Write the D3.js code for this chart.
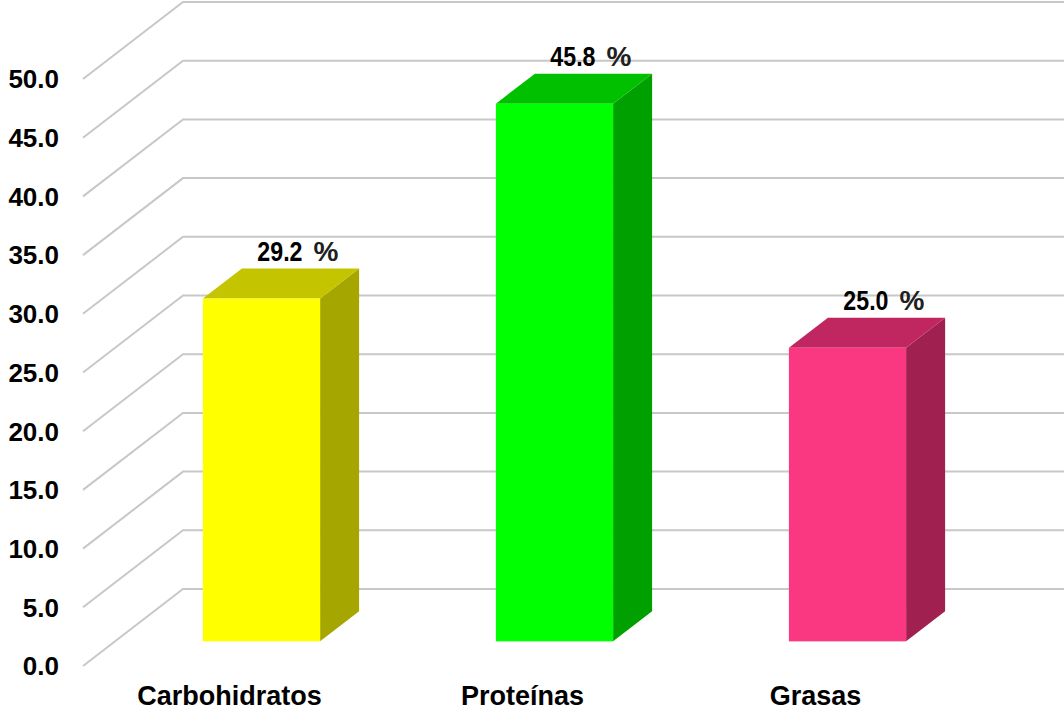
<!DOCTYPE html>
<html>
<head>
<meta charset="utf-8">
<script src="https://cdn.jsdelivr.net/npm/d3@7"></script>
<style>
  body { margin: 0; background: #fff; }
  text { font-family: "Liberation Sans", Arial, sans-serif; }
</style>
</head>
<body>
<div id="chart"></div>
<script>
// Data
const categories = ["Carbohidratos", "Proteínas", "Grasas"];
const values = [29.2, 45.8, 25.0];
const yTicks = [0, 5, 10, 15, 20, 25, 30, 35, 40, 45, 50];
const frontColors = ["#ffff00", "#00ff00", "#fa3882"];
const topColors = ["#c4c400", "#00c000", "#c0265f"];
const sideColors = ["#a6a600", "#00a000", "#a02050"];

const width = 1064, height = 712;

// Depth of the 3D box (front plane -> back wall)
const depthX = 100, depthY = -77;
const barFront = 0.32, barBack = 0.71;

const svg = d3.select("#chart")
    .append("svg")
    .attr("width", width)
    .attr("height", height);

// Scales (front plane)
const x = d3.scaleBand()
    .domain(categories)
    .range([83, 962])
    .paddingInner(0.6)
    .paddingOuter(0.3);

const y = d3.scaleLinear()
    .domain([0, 50])
    .range([666, 79]);

// Gridlines: diagonal on left wall + horizontal on back wall
const grid = svg.append("g").attr("stroke", "#c8c8c8").attr("stroke-width", 2).attr("fill", "none");
grid.selectAll("path")
    .data(yTicks)
    .enter().append("path")
    .attr("d", d => {
        const fy = y(d);
        return "M" + 83 + "," + fy + "L" + (83 + depthX) + "," + (fy + depthY) + "L" + width + "," + (fy + depthY);
    });

// Y-axis labels
svg.append("g").selectAll("text")
    .data(yTicks)
    .enter().append("text")
    .attr("x", 59)
    .attr("y", d => y(d))
    .attr("dy", "0.36em")
    .attr("text-anchor", "end")
    .style("font-size", "26px")
    .style("font-weight", "bold")
    .text(d => d.toFixed(1));

// Bars
const bx0 = depthX * barFront, by0 = depthY * barFront;
const ddx = depthX * (barBack - barFront), ddy = depthY * (barBack - barFront);
const bw = x.bandwidth();

const bars = svg.append("g").selectAll("g")
    .data(categories)
    .enter().append("g");

bars.each(function(c, i) {
    const g = d3.select(this);
    const left = x(c) + bx0;
    const right = left + bw;
    const bottom = y(0) + by0;
    const top = y(values[i]) + by0;

    // side face
    g.append("path")
        .attr("d", "M" + right + "," + top + "L" + (right + ddx) + "," + (top + ddy) +
            "L" + (right + ddx) + "," + (bottom + ddy) + "L" + right + "," + bottom + "Z")
        .attr("fill", sideColors[i]);
    // top face
    g.append("path")
        .attr("d", "M" + left + "," + top + "L" + (left + ddx) + "," + (top + ddy) +
            "L" + (right + ddx) + "," + (top + ddy) + "L" + right + "," + top + "Z")
        .attr("fill", topColors[i]);
    // front face
    g.append("rect")
        .attr("x", left)
        .attr("y", top)
        .attr("width", bw)
        .attr("height", bottom - top)
        .attr("fill", frontColors[i]);

    // value label: narrow bold number + percent sign
    const cx = left + bw / 2 + ddx - 2;
    const base = top + ddy - 8;
    g.append("text")
        .attr("transform", "translate(" + (cx + 4) + "," + base + ") scale(0.86,1)")
        .attr("text-anchor", "end")
        .style("font-size", "27px")
        .style("font-weight", "bold")
        .text(values[i].toFixed(1));
    g.append("text")
        .attr("x", cx + 15)
        .attr("y", base)
        .attr("text-anchor", "start")
        .style("font-size", "28px")
        .style("font-weight", "bold")
        .attr("fill", "#202020")
        .text("%");
});

// Category labels
svg.append("g").selectAll("text")
    .data(categories)
    .enter().append("text")
    .attr("x", d => x(d) + bw / 2)
    .attr("y", 705)
    .attr("text-anchor", "middle")
    .style("font-size", "27px")
    .style("font-weight", "bold")
    .text(d => d);
</script>
</body>
</html>
